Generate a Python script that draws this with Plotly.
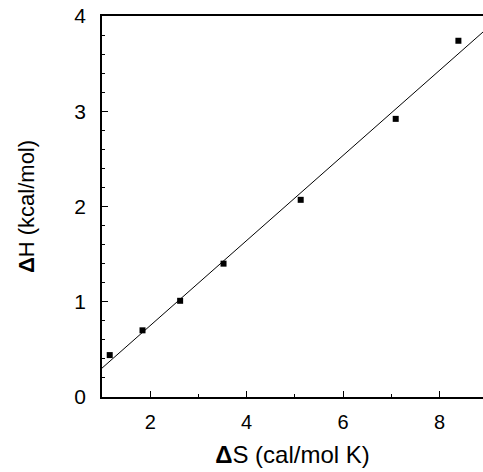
import numpy as np
import plotly.graph_objects as go

dS = [1.16, 1.84, 2.62, 3.52, 5.12, 7.09, 8.39]
dH = [0.44, 0.70, 1.01, 1.40, 2.07, 2.92, 3.74]
x_ticks = [2, 4, 6, 8]
y_ticks = [0, 1, 2, 3, 4]
x_range = [1.0, 8.9]
y_range = [0, 4]

slope, intercept = np.polyfit(dS, dH, 1)
fit_x = np.array(x_range)
fit_y = slope * fit_x + intercept

font = "Liberation Sans, Arial, sans-serif"

fig = go.Figure()
fig.add_trace(go.Scatter(x=fit_x, y=fit_y, mode="lines",
                         line=dict(color="black", width=1), hoverinfo="skip",
                         cliponaxis=True))
fig.add_trace(go.Scatter(x=dS, y=dH, mode="markers",
                         marker=dict(symbol="square", size=6, color="black")))

fig.update_layout(
    width=483, height=472,
    margin=dict(l=102, r=0, t=16, b=75),
    plot_bgcolor="white", paper_bgcolor="white",
    showlegend=False,
    font=dict(family=font, color="black", size=19),
)
fig.update_xaxes(
    range=x_range, tickvals=x_ticks, ticktext=[str(v) for v in x_ticks],
    showgrid=False, zeroline=False,
    showline=True, linecolor="black", linewidth=1.5, mirror=True,
    ticks="inside", ticklen=6, tickwidth=1, tickcolor="black",
    minor=dict(dtick=1, tick0=1, ticks="inside", ticklen=3, tickcolor="black"),
    tickfont=dict(size=20), ticklabelstandoff=6,
    title=dict(text="<b>Δ</b>S (cal/mol K)", font=dict(size=24), standoff=14),
)
fig.update_yaxes(
    range=y_range, tickvals=y_ticks, ticktext=[str(v) for v in y_ticks],
    showgrid=False, zeroline=False,
    showline=True, linecolor="black", linewidth=1.5,
    ticks="inside", ticklen=6, tickwidth=1, tickcolor="black",
    minor=dict(dtick=0.2, tick0=0, ticks="inside", ticklen=3, tickcolor="black"),
    tickfont=dict(size=21), ticklabelstandoff=10,
    title=dict(text="<b>Δ</b>H (kcal/mol)", font=dict(size=22), standoff=34),
)
fig.write_html("out.html")
